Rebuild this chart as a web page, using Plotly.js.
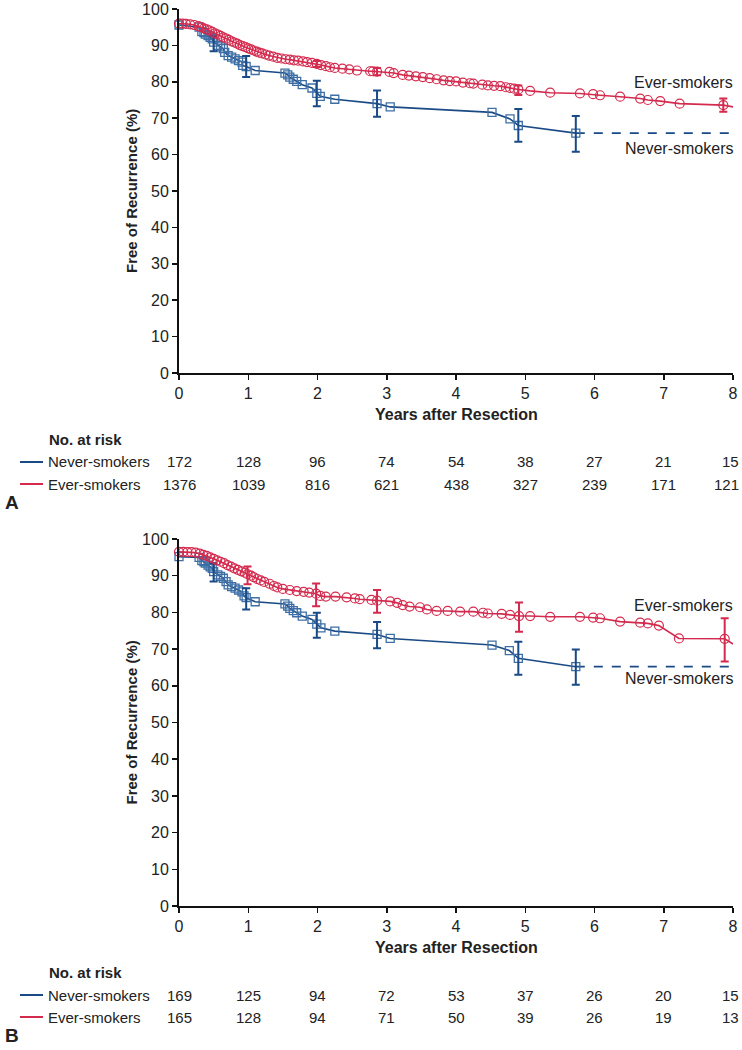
<!DOCTYPE html>
<html><head><meta charset="utf-8">
<script src="https://cdn.plot.ly/plotly-3.0.1.min.js"></script>
<style>html,body{margin:0;padding:0;background:#fff}#chart{width:742px;height:1050px}</style>
</head><body><div id="chart"></div>
<script>
// ---------- DATA ----------
const years = [0,1,2,3,4,5,6,7,8];
const seriesNames = ["Never-smokers","Ever-smokers"];

// Panel A
const aNeverT = [0.00,0.29,0.33,0.36,0.38,0.42,0.45,0.48,0.50,0.56,0.60,0.64,0.66,0.71,0.76,0.81,0.86,0.91,0.92,0.97,1.10,1.53,1.57,1.60,1.65,1.70,1.78,1.92,1.99,2.04,2.25,2.86,3.05,4.52,4.78,4.90,5.73];
const aNeverS = [95.6,95.0,93.8,93.5,93.1,92.7,92.2,91.8,90.9,90.0,89.6,89.1,88.1,87.2,86.8,86.3,85.8,85.4,84.5,84.2,83.1,82.4,81.9,81.3,80.7,80.1,79.2,78.3,76.8,76.0,75.2,74.0,73.1,71.6,69.8,68.0,65.9];
const aNeverErrT = [0.50,0.97,1.99,2.86,4.90,5.73];
const aNeverErrS = [90.5,84.2,76.8,74.0,68.0,65.7];
const aNeverErrV = [2.1,2.9,3.5,3.6,4.5,4.9];

const aEverT = [0.00,0.05,0.10,0.16,0.22,0.28,0.32,0.36,0.40,0.44,0.48,0.52,0.56,0.60,0.64,0.68,0.72,0.76,0.80,0.84,0.88,0.92,0.96,1.00,1.04,1.08,1.12,1.16,1.20,1.25,1.30,1.36,1.42,1.48,1.54,1.60,1.66,1.72,1.79,1.85,1.92,1.99,2.05,2.12,2.18,2.25,2.36,2.46,2.57,2.76,2.80,2.86,3.04,3.10,3.23,3.32,3.42,3.52,3.62,3.72,3.82,3.91,4.00,4.10,4.20,4.25,4.38,4.46,4.55,4.64,4.72,4.78,4.84,4.90,5.07,5.36,5.79,5.98,6.08,6.37,6.66,6.77,6.95,7.23,7.86,8.00];
const aEverS = [96.0,96.0,95.9,95.8,95.6,95.3,95.0,94.7,94.4,94.1,93.7,93.3,93.0,92.6,92.2,91.9,91.5,91.1,90.8,90.5,90.1,89.8,89.5,89.2,88.9,88.6,88.3,88.0,87.8,87.5,87.2,86.9,86.6,86.4,86.2,86.1,85.9,85.8,85.6,85.4,85.2,84.9,84.6,84.3,84.0,83.8,83.6,83.4,83.1,82.9,82.9,82.8,82.7,82.4,81.9,81.7,81.5,81.3,81.0,80.7,80.4,80.2,80.1,79.8,79.6,79.5,79.2,79.0,78.9,78.8,78.5,78.3,78.1,77.9,77.5,77.0,76.8,76.6,76.3,75.9,75.4,75.0,74.7,74.0,73.6,73.1];
const aEverErrT = [1.99,2.86,4.90,7.86];
const aEverErrS = [84.9,82.8,77.7,73.6];
const aEverErrV = [0.8,1.0,1.3,1.8];

const aRiskNever = [172,128,96,74,54,38,27,21,15];
const aRiskEver  = [1376,1039,816,621,438,327,239,171,121];

// Panel B
const bNeverT = [0.00,0.29,0.33,0.36,0.38,0.42,0.45,0.48,0.50,0.56,0.60,0.64,0.68,0.71,0.76,0.81,0.86,0.91,0.94,0.97,1.10,1.53,1.57,1.60,1.65,1.70,1.78,1.92,1.99,2.05,2.25,2.86,3.05,4.52,4.77,4.90,5.73];
const bNeverS = [95.2,95.0,94.1,93.8,93.4,92.9,92.4,92.0,91.1,90.2,89.8,89.3,88.4,87.5,87.0,86.6,86.1,85.6,84.5,84.0,82.9,82.3,81.7,81.1,80.5,79.9,79.0,78.1,76.8,75.8,74.9,74.0,72.9,71.1,69.6,67.5,65.2];
const bNeverErrT = [0.50,0.97,1.99,2.86,4.90,5.73];
const bNeverErrS = [90.9,83.7,76.5,73.8,67.5,65.1];
const bNeverErrV = [2.5,2.9,3.4,3.6,4.5,4.8];

const bEverT = [0.00,0.06,0.12,0.18,0.24,0.30,0.35,0.40,0.45,0.50,0.55,0.60,0.65,0.70,0.75,0.80,0.85,0.90,0.95,0.99,1.04,1.08,1.13,1.18,1.23,1.31,1.37,1.42,1.50,1.60,1.70,1.80,1.88,1.98,2.04,2.12,2.26,2.42,2.54,2.61,2.78,2.86,3.05,3.15,3.23,3.33,3.48,3.58,3.72,3.88,4.06,4.25,4.39,4.46,4.66,4.78,4.91,5.07,5.36,5.79,5.98,6.08,6.37,6.66,6.77,6.93,7.22,7.88,8.00];
const bEverS = [96.5,96.5,96.4,96.4,96.3,96.0,95.7,95.4,95.0,94.6,94.2,93.8,93.4,92.9,92.5,92.0,91.6,91.2,90.8,90.4,90.0,89.6,89.1,88.7,88.3,87.8,87.2,86.8,86.4,86.1,85.8,85.6,85.4,85.1,84.5,84.3,84.3,84.1,83.8,83.6,83.4,83.2,83.0,82.6,82.0,81.6,81.4,80.8,80.4,80.4,80.2,80.2,79.9,79.7,79.6,79.3,79.0,79.0,78.8,78.8,78.6,78.4,77.5,77.2,77.0,76.4,72.9,72.8,71.4];
const bEverErrT = [0.99,1.98,2.86,4.91,7.88];
const bEverErrS = [90.1,84.8,83.0,78.7,72.5];
const bEverErrV = [2.4,3.1,3.1,4.0,5.9];

const bRiskNever = [169,125,94,72,53,37,26,20,15];
const bRiskEver  = [165,128,94,71,50,39,26,19,13];

// ---------- STYLE / LAYOUT ----------
const W = 742, H = 1050;
const px = v => v / W;
const py = v => 1 - v / H;
const RED = '#d42a4e', BLUE = '#1a4a85';
const FONT = 'Liberation Sans, Arial, Helvetica, sans-serif';

const panels = [
  {xa:'x', ya:'y', top:9, bottom:373, nT:aNeverT, nS:aNeverS, nET:aNeverErrT, nES:aNeverErrS, nEV:aNeverErrV,
   eT:aEverT, eS:aEverS, eET:aEverErrT, eES:aEverErrS, eEV:aEverErrV, rN:aRiskNever, rE:aRiskEver, letter:'A',
   everLbl:82, neverLbl:148},
  {xa:'x2', ya:'y2', top:539, bottom:906, nT:bNeverT, nS:bNeverS, nET:bNeverErrT, nES:bNeverErrS, nEV:bNeverErrV,
   eT:bEverT, eS:bEverS, eET:bEverErrT, eES:bEverErrS, eEV:bEverErrV, rN:bRiskNever, rE:bRiskEver, letter:'B',
   everLbl:605, neverLbl:679}
];

const traces = [];
const annotations = [];
const shapes = [];
const layout = {
  width: W, height: H, margin:{l:0,r:0,t:0,b:0},
  paper_bgcolor:'#fff', plot_bgcolor:'#fff', showlegend:false,
  font:{family:FONT, color:'#222', size:15}
};

panels.forEach((p, i) => {
  const sfx = i === 0 ? '' : '2';
  layout['xaxis'+sfx] = {
    domain:[px(179), px(733)], range:[0,8], anchor:'y'+sfx,
    showline:true, linewidth:2, linecolor:'#111',
    ticks:'outside', ticklen:5, tickwidth:1.5, tickcolor:'#111',
    tickvals:years, ticktext:years.map(String), tickfont:{size:16, color:'#222'},
    ticklabeloverflow:'allow',
    showgrid:false, zeroline:false, fixedrange:true
  };
  layout['yaxis'+sfx] = {
    domain:[py(p.bottom), py(p.top)], range:[0,100], anchor:'x'+sfx,
    showline:true, linewidth:2, linecolor:'#111',
    ticks:'outside', ticklen:5, tickwidth:1.5, tickcolor:'#111',
    tickmode:'linear', tick0:0, dtick:10, tickfont:{size:16, color:'#222'},
    ticklabeloverflow:'allow',
    showgrid:false, zeroline:false, fixedrange:true
  };

  // Never-smokers dashed extension
  const lastT = p.nT[p.nT.length-1], lastS = p.nS[p.nS.length-1];
  traces.push({x:[lastT, 8], y:[lastS, lastS], xaxis:p.xa, yaxis:p.ya, mode:'lines',
    line:{color:BLUE, width:1.8, dash:'dash'}, hoverinfo:'skip', cliponaxis:false});
  // Never-smokers line + markers
  traces.push({x:p.nT, y:p.nS, xaxis:p.xa, yaxis:p.ya, mode:'lines+markers', name:seriesNames[0],
    line:{color:BLUE, width:1.6},
    marker:{symbol:'square-open', size:8, color:'#3d6fa6', line:{width:1.3, color:'#3d6fa6'}},
    cliponaxis:false});
  traces.push({x:p.nET, y:p.nES, xaxis:p.xa, yaxis:p.ya, mode:'markers',
    marker:{size:1, color:BLUE, opacity:0},
    error_y:{type:'data', array:p.nEV, visible:true, color:BLUE, thickness:2, width:4},
    hoverinfo:'skip', cliponaxis:false});

  // Ever-smokers line + markers (last point is the curve end without marker)
  traces.push({x:p.eT, y:p.eS, xaxis:p.xa, yaxis:p.ya, mode:'lines', name:seriesNames[1],
    line:{color:RED, width:1.6}, cliponaxis:false});
  traces.push({x:p.eT.slice(0,-1), y:p.eS.slice(0,-1), xaxis:p.xa, yaxis:p.ya, mode:'markers',
    marker:{symbol:'circle-open', size:9, color:RED, line:{width:1.2, color:RED}}, cliponaxis:false});
  traces.push({x:p.eET, y:p.eES, xaxis:p.xa, yaxis:p.ya, mode:'markers',
    marker:{size:1, color:RED, opacity:0},
    error_y:{type:'data', array:p.eEV, visible:true, color:RED, thickness:2, width:4},
    hoverinfo:'skip', cliponaxis:false});

  // curve labels
  annotations.push({xref:'paper', yref:'paper', x:px(735), y:py(p.everLbl), text:'Ever-smokers',
    showarrow:false, xanchor:'right', yanchor:'middle', font:{size:16, color:'#222'}});
  annotations.push({xref:'paper', yref:'paper', x:px(735), y:py(p.neverLbl), text:'Never-smokers',
    showarrow:false, xanchor:'right', yanchor:'middle', font:{size:16, color:'#222'}});

  // axis titles
  annotations.push({xref:'paper', yref:'paper', x:px(456), y:py(p.bottom+42), text:'<b>Years after Resection</b>',
    showarrow:false, xanchor:'center', yanchor:'middle', font:{size:16, color:'#222'}});
  annotations.push({xref:'paper', yref:'paper', x:px(131), y:py((p.top+p.bottom)/2), text:'<b>Free of Recurrence (%)</b>',
    showarrow:false, textangle:-90, xanchor:'center', yanchor:'middle', font:{size:15, color:'#222'}});

  // risk table
  annotations.push({xref:'paper', yref:'paper', x:px(47), y:py(p.bottom+66), text:'<b>No. at risk</b>',
    showarrow:false, xanchor:'left', yanchor:'middle', font:{size:15, color:'#222'}});
  const rows = [{lbl:seriesNames[0], vals:p.rN, col:BLUE, y:p.bottom+89},
                {lbl:seriesNames[1], vals:p.rE, col:RED, y:p.bottom+111}];
  rows.forEach(r => {
    shapes.push({type:'line', xref:'paper', yref:'paper', x0:px(20), x1:px(43), y0:py(r.y), y1:py(r.y),
      line:{color:r.col, width:2}});
    annotations.push({xref:'paper', yref:'paper', x:px(46), y:py(r.y), text:r.lbl,
      showarrow:false, xanchor:'left', yanchor:'middle', font:{size:15, color:'#222'}});
    r.vals.forEach((v, k) => {
      const last = k === r.vals.length - 1;
      annotations.push({xref:last ? 'paper' : p.xa, yref:'paper', x:last ? px(741) : years[k], y:py(r.y), text:String(v),
        showarrow:false, xanchor:last ? 'right' : 'center', yanchor:'middle', font:{size:15, color:'#222'}});
    });
  });
  // panel letter
  annotations.push({xref:'paper', yref:'paper', x:px(3), y:py(p.bottom+129), text:'<b>'+p.letter+'</b>',
    showarrow:false, xanchor:'left', yanchor:'middle', font:{size:19, color:'#222'}});
});

layout.annotations = annotations;
layout.shapes = shapes;

Plotly.newPlot('chart', traces, layout, {staticPlot:true, displayModeBar:false});
</script>
</body></html>
